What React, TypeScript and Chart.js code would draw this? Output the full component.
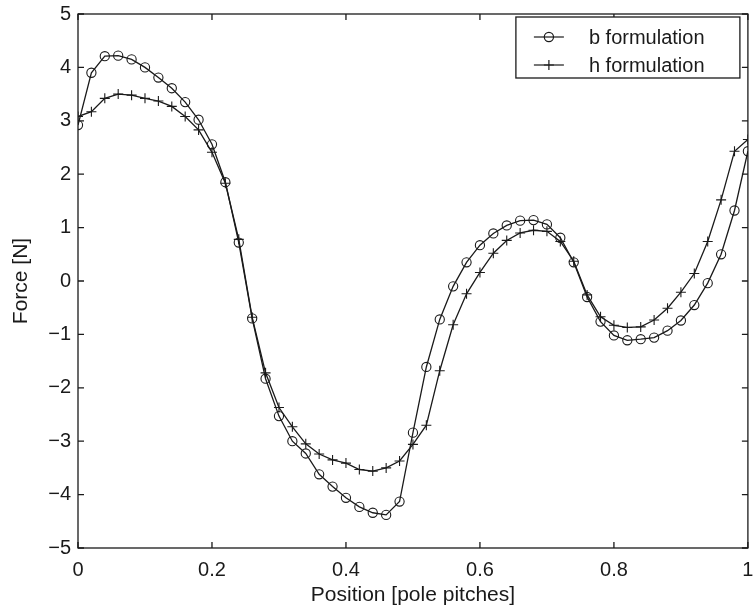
import React, { useEffect, useRef } from 'react';
import { Chart, registerables } from 'chart.js';

Chart.register(...registerables);

// Position along the pole pitch (x values of the sampled points)
const positions = [
  0, 0.02, 0.04, 0.06, 0.08, 0.1, 0.12, 0.14, 0.16, 0.18,
  0.2, 0.22, 0.24, 0.26, 0.28, 0.3, 0.32, 0.34, 0.36, 0.38,
  0.4, 0.42, 0.44, 0.46, 0.48, 0.5, 0.52, 0.54, 0.56, 0.58,
  0.6, 0.62, 0.64, 0.66, 0.68, 0.7, 0.72, 0.74, 0.76, 0.78,
  0.8, 0.82, 0.84, 0.86, 0.88, 0.9, 0.92, 0.94, 0.96, 0.98, 1,
];

// b formulation force [N]
const bForce = [
  2.92, 3.9, 4.21, 4.22, 4.15, 4.0, 3.81, 3.61, 3.35, 3.02,
  2.56, 1.85, 0.72, -0.7, -1.83, -2.53, -3.0, -3.23, -3.62, -3.85,
  -4.06, -4.23, -4.34, -4.38, -4.13, -2.84, -1.61, -0.72, -0.1, 0.35,
  0.67, 0.89, 1.04, 1.13, 1.14, 1.06, 0.81, 0.35, -0.3, -0.76,
  -1.02, -1.11, -1.09, -1.06, -0.93, -0.74, -0.45, -0.04, 0.5, 1.32, 2.43,
];

// h formulation force [N]
const hForce = [
  3.08, 3.17, 3.42, 3.5, 3.48, 3.42, 3.37, 3.27, 3.08, 2.83,
  2.41, 1.83, 0.78, -0.68, -1.72, -2.37, -2.73, -3.05, -3.24, -3.35,
  -3.41, -3.53, -3.56, -3.5, -3.37, -3.06, -2.7, -1.68, -0.82, -0.24,
  0.16, 0.52, 0.76, 0.9, 0.95, 0.93, 0.74, 0.37, -0.26, -0.67,
  -0.83, -0.87, -0.86, -0.73, -0.51, -0.21, 0.14, 0.74, 1.52, 2.43, 2.65,
];

const seriesLabels = ['b formulation', 'h formulation'];
const xTicks = [0, 0.2, 0.4, 0.6, 0.8, 1];
const yTicks = [-5, -4, -3, -2, -1, 0, 1, 2, 3, 4, 5];
const xTitle = 'Position [pole pitches]';
const yTitle = 'Force [N]';

const FONT = '"Liberation Sans", Arial, Helvetica, sans-serif';
const INK = '#1a1a1a';

function fmt(v: number): string {
  if (v < 0) return '\u2212' + String(Math.abs(v));
  return String(v);
}

function drawMarker(ctx: CanvasRenderingContext2D, style: string, x: number, y: number) {
  ctx.beginPath();
  if (style === 'circle') {
    ctx.arc(x, y, 4.6, 0, Math.PI * 2);
  } else {
    ctx.moveTo(x - 5, y);
    ctx.lineTo(x + 5, y);
    ctx.moveTo(x, y - 5);
    ctx.lineTo(x, y + 5);
  }
  ctx.stroke();
}

const framePlugin = {
  id: 'matlabFrame',
  afterDraw(chart: any) {
    const { ctx, chartArea, scales } = chart;
    const { left, right, top, bottom } = chartArea;
    const xs = scales.x;
    const ys = scales.y;
    ctx.save();
    ctx.strokeStyle = INK;
    ctx.lineWidth = 1.3;
    ctx.strokeRect(left, top, right - left, bottom - top);
    const tl = 6;
    ctx.beginPath();
    xTicks.forEach((v) => {
      const px = xs.getPixelForValue(v);
      ctx.moveTo(px, bottom);
      ctx.lineTo(px, bottom - tl);
      ctx.moveTo(px, top);
      ctx.lineTo(px, top + tl);
    });
    yTicks.forEach((v) => {
      const py = ys.getPixelForValue(v);
      ctx.moveTo(left, py);
      ctx.lineTo(left + tl, py);
      ctx.moveTo(right, py);
      ctx.lineTo(right - tl, py);
    });
    ctx.stroke();

    // legend box (inside plot, top-right)
    const bx = right - 232;
    const by = top + 3;
    const bw = 224;
    const bh = 61;
    ctx.fillStyle = '#ffffff';
    ctx.fillRect(bx, by, bw, bh);
    ctx.lineWidth = 1.3;
    ctx.strokeRect(bx, by, bw, bh);
    ctx.font = '20px ' + FONT;
    ctx.textBaseline = 'middle';
    ctx.textAlign = 'left';
    ctx.fillStyle = INK;
    chart.data.datasets.forEach((ds: any, i: number) => {
      const ry = by + 20 + i * 28;
      ctx.lineWidth = 1.2;
      ctx.beginPath();
      ctx.moveTo(bx + 18, ry);
      ctx.lineTo(bx + 48, ry);
      ctx.stroke();
      drawMarker(ctx, ds.pointStyle, bx + 33, ry);
      ctx.fillText(ds.label, bx + 73, ry + 1);
    });
    ctx.restore();
  },
};

export default function App() {
  const ref = useRef<HTMLCanvasElement | null>(null);

  useEffect(() => {
    const canvas = ref.current;
    if (!canvas) return;
    document.body.style.margin = '0';
    const chart = new Chart(canvas, {
      type: 'line',
      data: {
        datasets: [
          {
            label: seriesLabels[0],
            data: positions.map((x, i) => ({ x, y: bForce[i] })),
            borderColor: INK,
            borderWidth: 1.3,
            pointStyle: 'circle',
            pointRadius: 4.6,
            pointBorderWidth: 1.1,
            pointBorderColor: INK,
            pointBackgroundColor: 'rgba(0,0,0,0)',
            tension: 0,
            fill: false,
          },
          {
            label: seriesLabels[1],
            data: positions.map((x, i) => ({ x, y: hForce[i] })),
            borderColor: INK,
            borderWidth: 1.3,
            pointStyle: 'cross',
            pointRadius: 5,
            pointBorderWidth: 1.1,
            pointBorderColor: INK,
            pointBackgroundColor: 'rgba(0,0,0,0)',
            tension: 0,
            fill: false,
          },
        ],
      },
      options: {
        animation: false,
        responsive: false,
        devicePixelRatio: 1,
        layout: { padding: { left: 0, right: 2, top: 14, bottom: 0 } },
        plugins: {
          legend: { display: false },
          tooltip: { enabled: false },
        },
        scales: {
          x: {
            type: 'linear',
            min: 0,
            max: 1,
            grid: { display: false, drawTicks: false },
            border: { display: false },
            afterBuildTicks: (s: any) => {
              s.ticks = xTicks.map((v) => ({ value: v }));
            },
            ticks: {
              autoSkip: false,
              maxRotation: 0,
              padding: 10,
              color: INK,
              font: { family: FONT, size: 20 },
              callback: (v: any) => fmt(Number(v)),
            },
            title: {
              display: true,
              text: xTitle,
              color: INK,
              font: { family: FONT, size: 21 },
              padding: { top: 0, bottom: 4 },
            },
            afterFit: (s: any) => {
              s.height = 64;
              s.paddingLeft = 0;
              s.paddingRight = 0;
            },
          },
          y: {
            type: 'linear',
            min: -5,
            max: 5,
            grid: { display: false, drawTicks: false },
            border: { display: false },
            afterBuildTicks: (s: any) => {
              s.ticks = yTicks.map((v) => ({ value: v }));
            },
            ticks: {
              autoSkip: false,
              padding: 7,
              color: INK,
              font: { family: FONT, size: 20 },
              callback: (v: any) => fmt(Number(v)),
            },
            title: {
              display: true,
              text: yTitle,
              color: INK,
              font: { family: FONT, size: 21 },
              padding: { top: 9, bottom: 0 },
            },
            afterFit: (s: any) => {
              s.width = 78;
              s.paddingTop = 0;
              s.paddingBottom = 0;
            },
          },
        },
      },
      plugins: [framePlugin],
    } as any);
    return () => chart.destroy();
  }, []);

  return (
    <div style={{ position: 'absolute', left: 0, top: 0, width: 754, height: 612, background: '#fff' }}>
      <canvas ref={ref} width={754} height={612} style={{ display: 'block', width: 754, height: 612 }} />
    </div>
  );
}
